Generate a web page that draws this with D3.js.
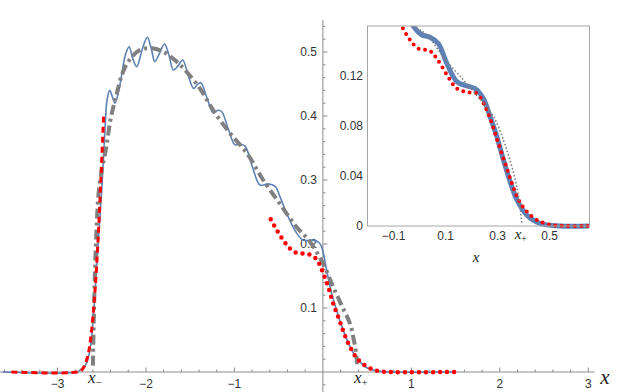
<!DOCTYPE html>
<html>
<head>
<meta charset="utf-8">
<script src="https://cdn.jsdelivr.net/npm/d3@7"></script>
<style>
  body { margin: 0; background: #fff; }
  text { font-family: "Liberation Sans", Arial, sans-serif; }
</style>
</head>
<body>
<script>
//---------------------------------data----------------------------------------

// main panel, blue solid (full solution)
var blueMain = [[-3.62,0],[-2.78,0],[-2.745,0.003],[-2.70,0.008],[-2.67,0.014],[-2.64,0.03],
  [-2.614,0.055],[-2.576,0.123],[-2.54,0.201],[-2.50,0.285],[-2.463,0.38],[-2.44,0.425],
  [-2.41,0.44],[-2.38,0.43],[-2.35,0.42],[-2.31,0.438],[-2.275,0.464],[-2.23,0.497],
  [-2.19,0.508],[-2.15,0.49],[-2.105,0.477],[-2.04,0.505],[-1.985,0.523],[-1.94,0.505],
  [-1.90,0.485],[-1.85,0.497],[-1.79,0.5125],[-1.74,0.495],[-1.69,0.472],[-1.64,0.478],
  [-1.585,0.4875],[-1.52,0.462],[-1.46,0.443],[-1.42,0.449],[-1.38,0.452],[-1.31,0.428],
  [-1.24,0.405],[-1.19,0.409],[-1.145,0.407],[-1.07,0.38],[-0.994,0.355],[-0.94,0.356],
  [-0.88,0.353],[-0.80,0.322],[-0.71,0.292],[-0.62,0.294],[-0.54,0.29],[-0.48,0.272],
  [-0.41,0.248],[-0.35,0.23],[-0.297,0.217],[-0.223,0.206],[-0.12,0.206],[-0.05,0.203],
  [-0.015,0.196],[0.042,0.159],[0.098,0.123],[0.147,0.10],[0.19,0.081],[0.25,0.058],
  [0.305,0.04],[0.36,0.026],[0.418,0.016],[0.49,0.007],[0.57,0.003],[0.65,0.001],
  [0.75,0],[1.5,0]];

// main panel, gray dot-dashed (Thomas-Fermi)
var grayMain = [[-2.60,0.01],[-2.59,0.08],[-2.578,0.15],[-2.56,0.22],[-2.535,0.28],
  [-2.50,0.315],[-2.45,0.35],[-2.40,0.395],[-2.33,0.435],[-2.27,0.465],[-2.20,0.485],
  [-2.07,0.503],[-1.93,0.506],[-1.80,0.50],[-1.67,0.487],[-1.56,0.472],[-1.39,0.443],
  [-1.24,0.409],[-1.05,0.373],[-0.86,0.342],[-0.675,0.30],[-0.49,0.2635],[-0.30,0.227],
  [-0.147,0.2035],[0.0,0.17],[0.116,0.133],[0.215,0.103],[0.305,0.076],[0.35,0.05],
  [0.38,0.024],[0.385,0.012]];

// main panel, red dashed (left edge approximation)
var redLeft = [[-3.52,0],[-2.78,0],[-2.72,0.004],[-2.66,0.024],[-2.614,0.066],
  [-2.576,0.128],[-2.54,0.211],[-2.51,0.30],[-2.485,0.38],[-2.478,0.405]];

// main panel, red dotted (right edge approximation)
var redRight = [[-0.59,0.2385],[-0.523,0.222],[-0.448,0.206],[-0.373,0.193],[-0.297,0.186],
  [-0.203,0.185],[-0.11,0.181],[-0.053,0.172],[0.004,0.154],[0.06,0.133],[0.116,0.107],
  [0.173,0.086],[0.286,0.045],[0.40,0.019],[0.53,0.006],[0.64,0.001],[0.75,0],[1.5,0]];

// inset
var blueInset = [[-0.04,0.168],[-0.024,0.160],[0.008,0.153],[0.040,0.151],[0.072,0.146],
  [0.105,0.130],[0.143,0.1155],[0.182,0.112],[0.213,0.110],[0.245,0.102],[0.271,0.0875],
  [0.297,0.0715],[0.322,0.053],[0.348,0.0355],[0.374,0.021],[0.412,0.0088],[0.463,0.002],
  [0.54,0],[0.65,0]];
var redInset = [[-0.08,0.168],[-0.068,0.16],[-0.037,0.149],[-0.005,0.142],[0.040,0.140],
  [0.066,0.134],[0.105,0.121],[0.143,0.110],[0.182,0.107],[0.22,0.106],[0.252,0.0955],
  [0.278,0.082],[0.303,0.066],[0.329,0.050],[0.355,0.034],[0.380,0.021],[0.412,0.0115],
  [0.451,0.0048],[0.502,0.001],[0.56,0],[0.65,0]];
var grayInset = [[-0.035,0.168],[-0.02,0.160],[0.028,0.153],[0.092,0.135],[0.168,0.117],
  [0.218,0.105],[0.284,0.0875],[0.335,0.061],[0.374,0.031],[0.393,0.002]];

var xMajor = [-3, -2, -1, 1, 2, 3];
var yMajor = [0.1, 0.2, 0.3, 0.4, 0.5];
var xPlus = 0.385, xMinus = -2.6;
var insetXTicks = [-0.1, 0.1, 0.3, 0.5];
var insetYTicks = [0, 0.04, 0.08, 0.12];

//---------------------------------svg-----------------------------------------

var svg = d3.select("body").append("svg")
    .attr("width", 623)
    .attr("height", 392);

var x = d3.scaleLinear().domain([-3.65, 3.07]).range([0, 594.5]);
var y = d3.scaleLinear().domain([-0.03125, 0.55]).range([392, 20]);

var axisColor = "#8a8a8a";
var fmt = function(d) { return d < 0 ? "\u2212" + Math.abs(d) : String(d); };

// x axis
svg.append("line")
    .attr("x1", x(-3.65)).attr("x2", x(3.07))
    .attr("y1", y(0)).attr("y2", y(0))
    .attr("stroke", axisColor).attr("stroke-width", 1);

var xMinor = d3.range(-36, 31, 2).map(function(d) { return d / 10; })
    .filter(function(d) { return Math.abs(d - Math.round(d)) > 1e-9; });

svg.append("g").selectAll("line").data(xMinor).enter().append("line")
    .attr("x1", function(d) { return x(d); }).attr("x2", function(d) { return x(d); })
    .attr("y1", y(0)).attr("y2", y(0) - 2.5)
    .attr("stroke", axisColor);

svg.append("g").selectAll("line").data(xMajor).enter().append("line")
    .attr("x1", function(d) { return x(d); }).attr("x2", function(d) { return x(d); })
    .attr("y1", y(0)).attr("y2", y(0) - 4.5)
    .attr("stroke", axisColor);

svg.append("g").selectAll("text").data(xMajor).enter().append("text")
    .attr("x", function(d) { return x(d); })
    .attr("y", 388)
    .attr("text-anchor", "middle")
    .attr("font-size", 12)
    .attr("fill", "#333")
    .text(fmt);

// y axis
svg.append("line")
    .attr("x1", x(0)).attr("x2", x(0))
    .attr("y1", y(0.55)).attr("y2", 392)
    .attr("stroke", axisColor).attr("stroke-width", 1);

var yMinor = d3.range(-1, 28).map(function(d) { return d * 0.02; })
    .filter(function(d) { return Math.abs(d * 10 - Math.round(d * 10)) > 1e-9; });

svg.append("g").selectAll("line").data(yMinor).enter().append("line")
    .attr("x1", x(0)).attr("x2", x(0) + 2.5)
    .attr("y1", function(d) { return y(d); }).attr("y2", function(d) { return y(d); })
    .attr("stroke", axisColor);

svg.append("g").selectAll("line").data(yMajor).enter().append("line")
    .attr("x1", x(0)).attr("x2", x(0) + 4.5)
    .attr("y1", function(d) { return y(d); }).attr("y2", function(d) { return y(d); })
    .attr("stroke", axisColor);

svg.append("g").selectAll("text").data(yMajor).enter().append("text")
    .attr("x", x(0) - 6)
    .attr("y", function(d) { return y(d) + 4; })
    .attr("text-anchor", "end")
    .attr("font-size", 12)
    .attr("fill", "#333")
    .text(function(d) { return d; });

// x_- , x_+ and x labels
function subLabel(g, px, py, sub, size) {
  var t = g.append("text")
      .attr("x", px).attr("y", py)
      .attr("text-anchor", "middle")
      .style("font-family", "'Liberation Serif', 'DejaVu Serif', serif")
      .attr("font-size", size)
      .attr("fill", "#222");
  t.append("tspan").attr("font-style", "italic").text("x");
  t.append("tspan").attr("dy", size * 0.18).attr("font-size", size * 0.65).text(sub);
  return t;
}
subLabel(svg, x(xMinus) + 2, 383, "\u2212", 17);
subLabel(svg, x(xPlus) + 4, 383, "+", 17);

svg.append("text")
    .attr("x", 605).attr("y", 384)
    .attr("text-anchor", "middle")
    .style("font-family", "'Liberation Serif', 'DejaVu Serif', serif")
    .attr("font-style", "italic")
    .attr("font-size", 21)
    .attr("fill", "#222")
    .text("x");

//---------------------------------curves--------------------------------------

var line = d3.line()
    .x(function(d) { return x(d[0]); })
    .y(function(d) { return y(d[1]); })
    .curve(d3.curveCatmullRom.alpha(0.5));

svg.append("path").datum(blueMain)
    .attr("d", line).attr("fill", "none")
    .attr("stroke", "#5E81B5").attr("stroke-width", 1.6);

svg.append("path").datum(grayMain)
    .attr("d", line).attr("fill", "none")
    .attr("stroke", "#808080").attr("stroke-width", 4)
    .attr("stroke-dasharray", "10,4,3,4");

svg.append("path").datum(redLeft)
    .attr("d", line).attr("fill", "none")
    .attr("stroke", "#ff0000").attr("stroke-width", 3)
    .attr("stroke-dasharray", "6,4");

svg.append("path").datum(redRight)
    .attr("d", line).attr("fill", "none")
    .attr("stroke", "#ff0000").attr("stroke-width", 4.5)
    .attr("stroke-linecap", "round")
    .attr("stroke-dasharray", "0,7");

//---------------------------------inset---------------------------------------

var ix = d3.scaleLinear().domain([-0.2, 0.653]).range([367.5, 589.5]);
var iy = d3.scaleLinear().domain([0, 0.16]).range([226, 26]);

var inset = svg.append("g");

inset.append("rect")
    .attr("x", ix(-0.2)).attr("y", iy(0.16))
    .attr("width", ix(0.653) - ix(-0.2)).attr("height", iy(0) - iy(0.16))
    .attr("fill", "#fff");

inset.append("clipPath").attr("id", "insetClip")
  .append("rect")
    .attr("x", ix(-0.2)).attr("y", iy(0.16))
    .attr("width", ix(0.653) - ix(-0.2)).attr("height", iy(0) - iy(0.16) + 4);

var iline = d3.line()
    .x(function(d) { return ix(d[0]); })
    .y(function(d) { return iy(d[1]); })
    .curve(d3.curveCatmullRom.alpha(0.5));

var curves = inset.append("g").attr("clip-path", "url(#insetClip)");

curves.append("path").datum(blueInset)
    .attr("d", iline).attr("fill", "none")
    .attr("stroke", "#5E81B5").attr("stroke-width", 5);

curves.append("path").datum(redInset)
    .attr("d", iline).attr("fill", "none")
    .attr("stroke", "#ff0000").attr("stroke-width", 4)
    .attr("stroke-linecap", "round")
    .attr("stroke-dasharray", "0,6.5");

curves.append("path").datum(grayInset)
    .attr("d", iline).attr("fill", "none")
    .attr("stroke", "#808080").attr("stroke-width", 1.8)
    .attr("stroke-linecap", "round")
    .attr("stroke-dasharray", "0,3.6");

inset.append("rect")
    .attr("x", ix(-0.2)).attr("y", iy(0.16))
    .attr("width", ix(0.653) - ix(-0.2)).attr("height", iy(0) - iy(0.16))
    .attr("fill", "none")
    .attr("stroke", "#a6a6a6").attr("stroke-width", 1);

inset.append("g").selectAll("text").data(insetXTicks).enter().append("text")
    .attr("x", function(d) { return ix(d); })
    .attr("y", 240)
    .attr("text-anchor", "middle")
    .attr("font-size", 12)
    .attr("fill", "#333")
    .text(fmt);

subLabel(inset, ix(xPlus) + 1, 239, "+", 15);

inset.append("g").selectAll("text").data(insetYTicks).enter().append("text")
    .attr("x", 363)
    .attr("y", function(d) { return iy(d) + 4; })
    .attr("text-anchor", "end")
    .attr("font-size", 12)
    .attr("fill", "#333")
    .text(function(d) { return d; });

inset.append("text")
    .attr("x", 476).attr("y", 262)
    .attr("text-anchor", "middle")
    .style("font-family", "'Liberation Serif', 'DejaVu Serif', serif")
    .attr("font-style", "italic")
    .attr("font-size", 15)
    .attr("fill", "#222")
    .text("x");
</script>
</body>
</html>
